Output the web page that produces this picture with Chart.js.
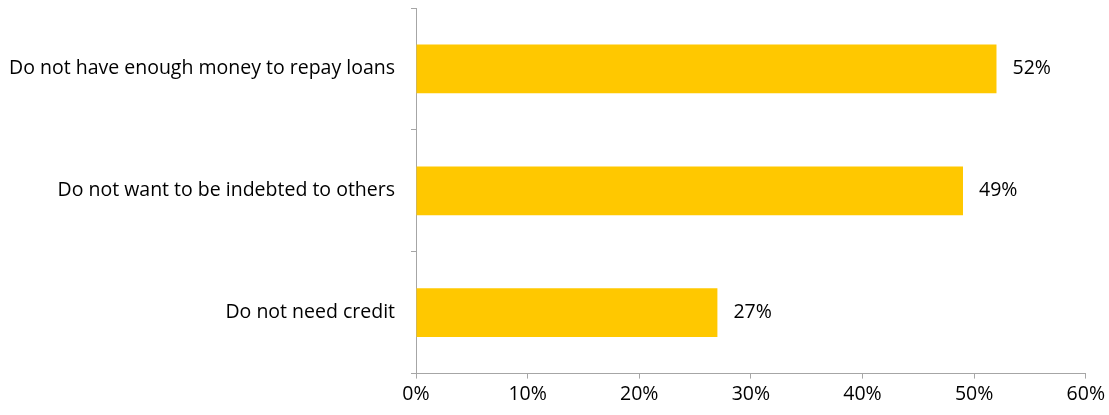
<!DOCTYPE html>
<html>
<head>
<meta charset="utf-8">
<script src="https://cdn.jsdelivr.net/npm/chart.js@4/dist/chart.umd.min.js"></script>
<style>
  html, body { margin: 0; padding: 0; background: #fff; }
  #wrap { width: 1109px; height: 415px; position: relative; }
</style>
</head>
<body>
<div id="wrap"><canvas id="myChart"></canvas></div>
<script>
// Categorias y valores (porcentaje)
var categories = [
  "Do not have enough money to repay loans",
  "Do not want to be indebted to others",
  "Do not need credit",
];
var values = [52, 49, 27];
var tickValues = [0, 10, 20, 30, 40, 50, 60];

var axisColor = "#a6a6a6";
var fontFamily = "'Open Sans', sans-serif";
var fontSize = 19.5;

// Etiquetas de valor a la derecha de cada barra
var valueLabels = {
  id: "valueLabels",
  afterDatasetsDraw: function (chart) {
    var ctx = chart.ctx;
    var meta = chart.getDatasetMeta(0);
    ctx.save();
    ctx.font = fontSize + "px " + fontFamily;
    ctx.fillStyle = "#000";
    ctx.textAlign = "left";
    ctx.textBaseline = "middle";
    meta.data.forEach(function (bar, i) {
      ctx.fillText(values[i] + "%", bar.x + 16, bar.y);
    });
    ctx.restore();
  },
};

var ctx = document.getElementById("myChart").getContext("2d");
var myChart = new Chart(ctx, {
  type: "bar",
  data: {
    labels: categories,
    datasets: [
      {
        data: values,
        backgroundColor: "#ffc800",
        categoryPercentage: 1,
        barPercentage: 0.4,
      },
    ],
  },
  options: {
    indexAxis: "y",
    responsive: true,
    maintainAspectRatio: false,
    animation: false,
    layout: { padding: { top: 8, right: 22, left: 0, bottom: 5 } },
    plugins: {
      legend: { display: false },
      tooltip: { enabled: false },
    },
    scales: {
      x: {
        min: 0,
        max: 60,
        afterBuildTicks: function (axis) {
          axis.ticks = tickValues.map(function (v) { return { value: v }; });
        },
        ticks: {
          color: "#000",
          font: { family: fontFamily, size: fontSize },
          padding: 4,
          callback: function (v) { return v + "%"; },
        },
        grid: {
          drawOnChartArea: false,
          drawTicks: true,
          tickLength: 5,
          color: axisColor,
        },
        border: { color: axisColor, width: 1 },
      },
      y: {
        afterFit: function (axis) {
          axis.width = 416;
          // las etiquetas van centradas en cada categoria, sin margen extra
          axis.paddingTop = 0;
          axis.paddingBottom = 0;
        },
        ticks: {
          color: "#000",
          font: { family: fontFamily, size: fontSize },
          padding: 16,
        },
        grid: {
          drawOnChartArea: false,
          drawTicks: true,
          tickLength: 5,
          color: axisColor,
          offset: true,
        },
        border: { color: axisColor, width: 1 },
      },
    },
  },
  plugins: [valueLabels],
});
</script>
</body>
</html>
